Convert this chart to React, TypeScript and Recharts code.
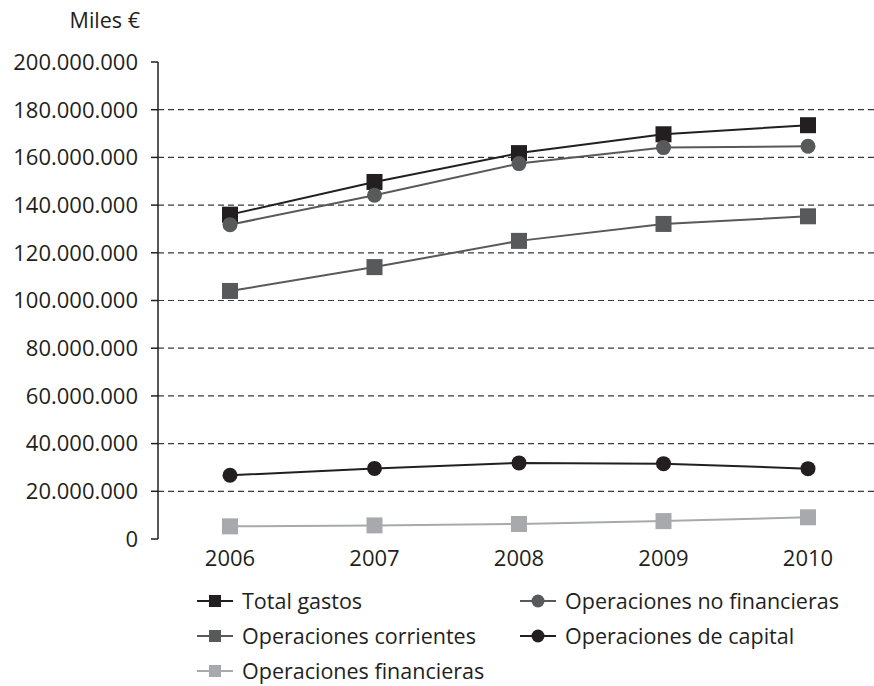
import * as React from "react";
import {
	LineChart,
	Line,
	XAxis,
	YAxis,
	ReferenceLine,
} from "recharts";

// ─── Data ──────────────────────────────────────────────────────────────────

const years = ["2006", "2007", "2008", "2009", "2010"];

const totalGastos = [136.0e6, 149.7e6, 161.8e6, 169.7e6, 173.5e6];
const operacionesNoFinancieras = [131.8e6, 144.1e6, 157.4e6, 164.1e6, 164.7e6];
const operacionesCorrientes = [104.0e6, 114.0e6, 125.0e6, 132.1e6, 135.3e6];
const operacionesCapital = [26.7e6, 29.6e6, 31.9e6, 31.6e6, 29.5e6];
const operacionesFinancieras = [5.3e6, 5.7e6, 6.3e6, 7.5e6, 9.1e6];

const yTicks = [0, 20e6, 40e6, 60e6, 80e6, 100e6, 120e6, 140e6, 160e6, 180e6, 200e6];
const gridValues = [20e6, 40e6, 60e6, 80e6, 100e6, 120e6, 140e6, 160e6, 180e6];
const bandEdges = [0, 1, 2, 3, 4, 5];

type Shape = "square" | "circle";

interface SeriesDef {
	key: string;
	name: string;
	color: string;
	shape: Shape;
	values: number[];
}

const series: SeriesDef[] = [
	{ key: "total", name: "Total gastos", color: "#231f20", shape: "square", values: totalGastos },
	{ key: "noFin", name: "Operaciones no financieras", color: "#58595b", shape: "circle", values: operacionesNoFinancieras },
	{ key: "corr", name: "Operaciones corrientes", color: "#58595b", shape: "square", values: operacionesCorrientes },
	{ key: "cap", name: "Operaciones de capital", color: "#231f20", shape: "circle", values: operacionesCapital },
	{ key: "fin", name: "Operaciones financieras", color: "#a7a9ac", shape: "square", values: operacionesFinancieras },
];

const data = years.map((year, i) => {
	const row: Record<string, string | number> = { year };
	series.forEach((s) => {
		row[s.key] = s.values[i];
	});
	return row;
});

// ─── Helpers ───────────────────────────────────────────────────────────────

const FONT = "'Open Sans', sans-serif";
const AXIS = "#231f20";

const formatMiles = (v: number) =>
	Math.round(v)
		.toString()
		.replace(/\B(?=(\d{3})+(?!\d))/g, ".");

function Marker(props: { cx?: number; cy?: number; color: string; shape: Shape }) {
	const { cx, cy, color, shape } = props;
	if (cx == null || cy == null) return null;
	if (shape === "square") {
		return <rect x={cx - 8} y={cy - 8} width={16} height={16} fill={color} />;
	}
	return <circle cx={cx} cy={cy} r={7.5} fill={color} />;
}

function LegendItem({ s }: { s: SeriesDef }) {
	return (
		<div style={{ display: "flex", alignItems: "center", height: 35, whiteSpace: "nowrap" }}>
			<svg width={36} height={16} style={{ marginRight: 9, flex: "none" }}>
				<line x1={0} y1={8} x2={36} y2={8} stroke={s.color} strokeWidth={2} />
				{s.shape === "square" ? (
					<rect x={12} y={2} width={12} height={12} fill={s.color} />
				) : (
					<circle cx={18} cy={8} r={6.5} fill={s.color} />
				)}
			</svg>
			<span>{s.name}</span>
		</div>
	);
}

// ─── Chart ─────────────────────────────────────────────────────────────────

export default function App() {
	return (
		<div
			style={{
				position: "absolute",
				left: 0,
				top: 0,
				width: 874,
				height: 686,
				overflow: "hidden",
				background: "#fff",
				fontFamily: FONT,
			}}
		>
			<div
				style={{
					position: "absolute",
					right: 734,
					top: 5,
					fontSize: 21.5,
					color: AXIS,
					whiteSpace: "nowrap",
				}}
			>
				Miles €
			</div>
			<LineChart
				width={890}
				height={686}
				data={data}
				margin={{ top: 62, right: 10, bottom: 107, left: 0 }}
			>
				<XAxis
					xAxisId="edges"
					type="number"
					domain={[0, 5]}
					ticks={bandEdges}
					tick={false}
					tickSize={7}
					height={0}
					stroke={AXIS}
					strokeWidth={1.5}
					allowDataOverflow
				/>
				<XAxis
					dataKey="year"
					padding={{ left: 72, right: 72 }}
					axisLine={false}
					tickLine={false}
					tickSize={0}
					tickMargin={11}
					height={40}
					interval={0}
					tick={{ fill: AXIS, fontSize: 22, fontFamily: FONT }}
				/>
				<YAxis
					type="number"
					domain={[0, 200e6]}
					ticks={yTicks}
					interval={0}
					width={158}
					tickSize={7}
					tickMargin={13}
					tickFormatter={formatMiles}
					stroke={AXIS}
					strokeWidth={1.5}
					tick={{ fill: AXIS, fontSize: 22, fontFamily: FONT }}
				/>
				{gridValues.map((v) => (
					<ReferenceLine
						key={v}
						y={v}
						stroke="#3a3a3a"
						strokeWidth={1.2}
						strokeDasharray="6 4"
					/>
				))}
				{series.map((s) => (
					<Line
						key={s.key}
						dataKey={s.key}
						name={s.name}
						stroke={s.color}
						strokeWidth={2}
						isAnimationActive={false}
						dot={(p: any) => (
							<Marker key={`${s.key}-${p.index}`} cx={p.cx} cy={p.cy} color={s.color} shape={s.shape} />
						)}
						activeDot={false}
					/>
				))}
			</LineChart>
			<div
				style={{
					position: "absolute",
					left: 197,
					top: 583,
					display: "grid",
					gridTemplateColumns: "323px auto",
					fontSize: 21.5,
					color: AXIS,
				}}
			>
				{series.map((s) => (
					<LegendItem key={s.key} s={s} />
				))}
			</div>
		</div>
	);
}
